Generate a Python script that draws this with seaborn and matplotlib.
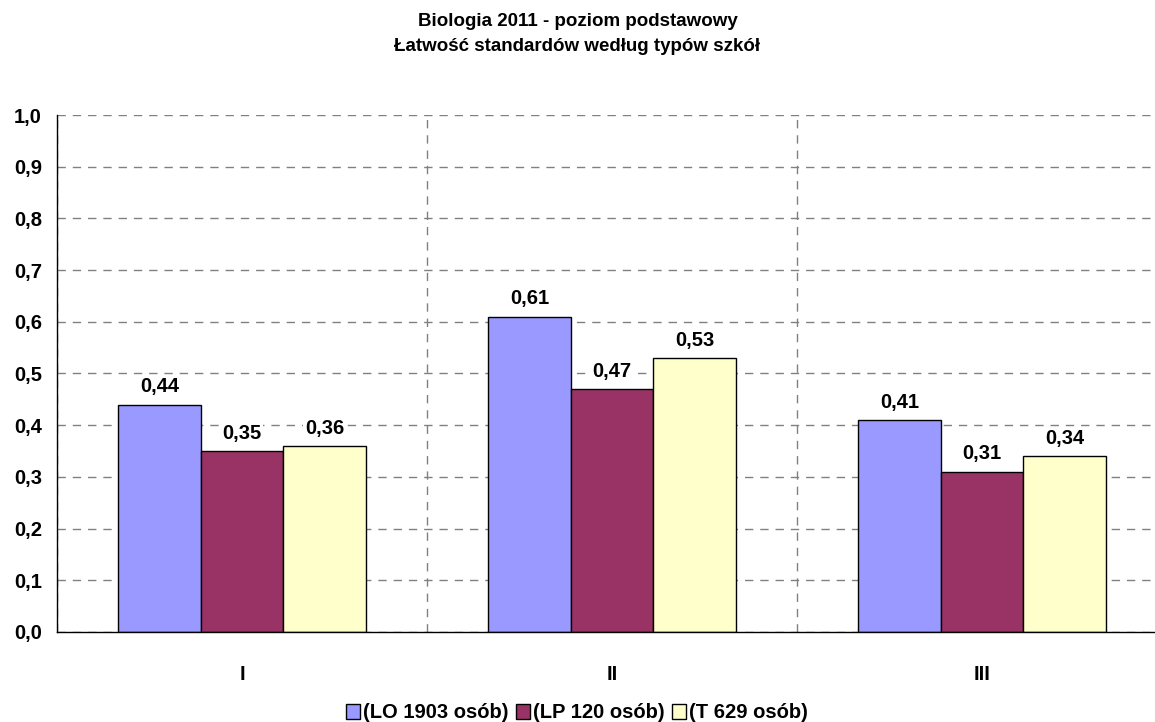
import matplotlib
matplotlib.use("Agg")
import matplotlib.pyplot as plt
import seaborn as sns
import pandas as pd
from matplotlib.ticker import MultipleLocator, FixedLocator, FuncFormatter

# Standards (categories) and the ease index for each school type
standards = ["I", "II", "III"]
series_names = ["(LO 1903 osób)", "(LP 120 osób)", "(T 629 osób)"]
lo_values = [0.44, 0.61, 0.41]
lp_values = [0.35, 0.47, 0.31]
t_values = [0.36, 0.53, 0.34]
colors = ["#9999FF", "#993366", "#FFFFCC"]

rows = []
for name, vals in zip(series_names, [lo_values, lp_values, t_values]):
    for std, v in zip(standards, vals):
        rows.append({"standard": std, "typ": name, "value": v})
df = pd.DataFrame(rows)

sns.set_theme(style="white")
plt.rcParams["font.family"] = ["Liberation Sans", "DejaVu Sans"]
plt.rcParams["font.weight"] = "bold"
plt.rcParams["text.color"] = "black"
plt.rcParams["xtick.color"] = "black"
plt.rcParams["ytick.color"] = "black"

FS = 14.5
TITLE_FS = 13.5

fig = plt.figure(figsize=(11.55, 7.22), dpi=100)
# the plot area runs on past the right edge of the figure
ax = fig.add_axes([57 / 1155, 90 / 722, 1110 / 1155, 517 / 722])

sns.barplot(data=df, x="standard", y="value", hue="typ", order=standards,
            hue_order=series_names, palette=colors, width=0.668, gap=0,
            edgecolor="black", linewidth=1.0, saturation=1, ax=ax, legend=True)

ax.set_ylim(0, 1.0)
ax.set_xlim(-0.5, 2.5)
ax.yaxis.set_major_locator(MultipleLocator(0.1))
ax.yaxis.set_major_formatter(FuncFormatter(lambda v, p: f"{v:.1f}".replace(".", ",")))
ax.set_xticks([0, 1, 2])
ax.set_xticklabels(standards, fontsize=FS, fontweight="bold")
ax.xaxis.set_minor_locator(FixedLocator([-0.5, 0.5, 1.5, 2.5]))
ax.tick_params(axis="x", which="major", length=0, pad=24)
ax.tick_params(axis="x", which="minor", length=5.5, width=1, direction="out", color="black")
ax.tick_params(axis="y", length=5.8, width=1, direction="out", color="black", labelsize=FS, pad=5)
for lab in ax.get_yticklabels():
    lab.set_fontweight("bold")

grid_style = dict(linestyle=(0, (6, 5)), color="#808080", linewidth=1.0)
ax.grid(True, axis="y", which="major", **grid_style)
ax.grid(True, axis="x", which="minor", **grid_style)
ax.grid(False, axis="x", which="major")
ax.set_axisbelow(True)

for side in ["top", "right"]:
    ax.spines[side].set_visible(False)
for side in ["left", "bottom"]:
    ax.spines[side].set_color("black")
    ax.spines[side].set_linewidth(1.0)

ax.set_xlabel("")
ax.set_ylabel("")

for container in ax.containers:
    labels = [f"{b.get_height():.2f}".replace(".", ",") for b in container]
    texts = ax.bar_label(container, labels=labels, padding=6, fontsize=FS, fontweight="bold")
    for t in texts:
        t.set_bbox(dict(facecolor="white", edgecolor="none", pad=1.0))

handles, labels = ax.get_legend_handles_labels()
ax.legend(handles, labels, loc="center", bbox_to_anchor=(577 / 1155, 1 - 713 / 722),
          bbox_transform=fig.transFigure, ncol=3, frameon=False,
          handlelength=0.7, handleheight=0.7, handletextpad=0.15, columnspacing=0.35,
          borderpad=0, prop={"size": FS, "weight": "bold"})

fig.suptitle("Biologia 2011 - poziom podstawowy\nŁatwość standardów według typów szkół",
             y=1 - 13 / 722, fontsize=TITLE_FS, fontweight="bold", linespacing=1.6, va="top")

fig.savefig("out.png", dpi=100)
